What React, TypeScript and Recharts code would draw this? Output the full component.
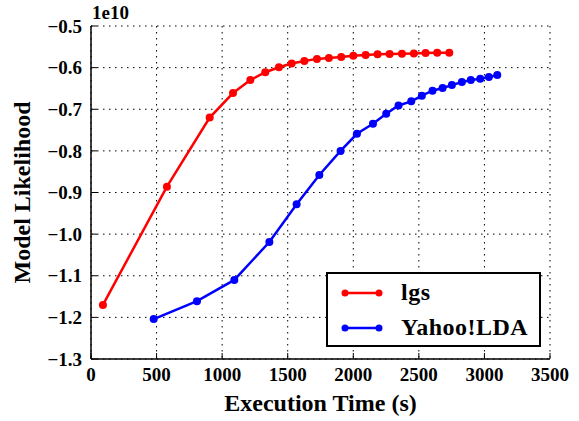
import { CartesianGrid, Line, LineChart, XAxis, YAxis } from "recharts";

const lgsTime = [91, 579, 905, 1083, 1215, 1329, 1433, 1530, 1627, 1723, 1814, 1908, 2000, 2094, 2185, 2277, 2371, 2462, 2551, 2640, 2732];
const lgsLikelihood = [
	-1.17, -0.886, -0.72, -0.661, -0.63, -0.611, -0.599, -0.59, -0.584, -0.579, -0.577, -0.5745, -0.5714, -0.5697, -0.568,
	-0.567, -0.5666, -0.5658, -0.565, -0.564, -0.564,
];

const yahooTime = [478, 808, 1093, 1360, 1568, 1741, 1903, 2028, 2150, 2251, 2345, 2442, 2523, 2604, 2681, 2752, 2828, 2896, 2968, 3034, 3098];
const yahooLikelihood = [
	-1.204, -1.161, -1.11, -1.019, -0.928, -0.858, -0.8, -0.759, -0.735, -0.711, -0.691, -0.681, -0.6675, -0.6555, -0.649,
	-0.642, -0.6347, -0.63, -0.6267, -0.6226, -0.618,
];

const X_TICKS = [0, 500, 1000, 1500, 2000, 2500, 3000, 3500];
const Y_TICKS = [-1.3, -1.2, -1.1, -1.0, -0.9, -0.8, -0.7, -0.6, -0.5];

const SERIES = [
	{ name: "lgs", color: "#ff0000" },
	{ name: "Yahoo!LDA", color: "#0000ff" },
];

const lgsData = lgsTime.map((x, i) => ({ x, y: lgsLikelihood[i] }));
const yahooData = yahooTime.map((x, i) => ({ x, y: yahooLikelihood[i] }));

const FONT = "'Liberation Serif', 'Times New Roman', serif";
const TICK_LEN = 6;

const fmtY = (v: number) => (v < 0 ? "\u2212" : "") + Math.abs(v).toFixed(1);

function BottomTick({ x, y, payload }: any) {
	return (
		<g>
			<line x1={x} x2={x} y1={y} y2={y - TICK_LEN} stroke="#000" strokeWidth={1} />
			<text x={x} y={y + 22} textAnchor="middle" fontFamily={FONT} fontWeight="bold" fontSize={19} fill="#000">
				{payload.value}
			</text>
		</g>
	);
}

function TopTick({ x, y }: any) {
	return <line x1={x} x2={x} y1={y} y2={y + TICK_LEN} stroke="#000" strokeWidth={1} />;
}

function LeftTick({ x, y, payload }: any) {
	return (
		<g>
			<line x1={x} x2={x + TICK_LEN} y1={y} y2={y} stroke="#000" strokeWidth={1} />
			<text x={x - 9} y={y} dy="0.35em" textAnchor="end" fontFamily={FONT} fontWeight="bold" fontSize={19} fill="#000">
				{fmtY(payload.value)}
			</text>
		</g>
	);
}

function RightTick({ x, y }: any) {
	return <line x1={x} x2={x - TICK_LEN} y1={y} y2={y} stroke="#000" strokeWidth={1} />;
}

function LegendBox() {
	return (
		<div
			style={{
				position: "absolute",
				left: 326,
				top: 272,
				width: 211,
				height: 71,
				border: "2px solid #000",
				background: "#fff",
				fontFamily: FONT,
				fontWeight: "bold",
				fontSize: 24,
				letterSpacing: 0.5,
			}}
		>
			{SERIES.map((s, i) => (
				<div key={s.name} style={{ display: "flex", alignItems: "center", height: 35, marginTop: i === 0 ? 1 : 0 }}>
					<svg width={60} height={12} style={{ marginLeft: 13 }}>
						<line x1={4} x2={38} y1={6} y2={6} stroke={s.color} strokeWidth={2.5} />
						<circle cx={4} cy={6} r={3.5} fill={s.color} />
						<circle cx={38} cy={6} r={3.5} fill={s.color} />
					</svg>
					<span>{s.name}</span>
				</div>
			))}
		</div>
	);
}

export default function App() {
	return (
		<div style={{ position: "absolute", left: 0, top: 0, width: 579, height: 421, background: "#fff" }}>
			<span
				style={{
					position: "absolute",
					left: 92,
					top: 2,
					fontFamily: FONT,
					fontWeight: "bold",
					fontSize: 19,
					lineHeight: "22px",
				}}
			>
				1e10
			</span>
			<LineChart width={579} height={421} margin={{ top: 26, right: 29, bottom: 0, left: 0 }}>
				<CartesianGrid stroke="#000" strokeDasharray="1.5 4.5" strokeWidth={1} />
				<XAxis
					type="number"
					dataKey="x"
					domain={[0, 3500]}
					ticks={X_TICKS}
					height={62}
					tickSize={0}
					tickMargin={0}
					tickLine={false}
					axisLine={{ stroke: "#000", strokeWidth: 1.5 }}
					tick={<BottomTick />}
					interval={0}
					allowDataOverflow
					label={{
						value: "Execution Time (s)",
						position: "insideBottom",
						offset: 10,
						style: { fontFamily: FONT, fontWeight: "bold", fontSize: 24, fill: "#000" },
					}}
				/>
				<XAxis
					xAxisId="top"
					orientation="top"
					type="number"
					dataKey="x"
					domain={[0, 3500]}
					ticks={X_TICKS}
					height={0}
					tickSize={0}
					tickMargin={0}
					tickLine={false}
					axisLine={{ stroke: "#000", strokeWidth: 1.5 }}
					tick={<TopTick />}
					interval={0}
					allowDataOverflow
				/>
				<YAxis
					type="number"
					domain={[-1.3, -0.5]}
					ticks={Y_TICKS}
					width={91}
					tickSize={0}
					tickMargin={0}
					tickLine={false}
					axisLine={{ stroke: "#000", strokeWidth: 1.5 }}
					tick={<LeftTick />}
					interval={0}
					allowDataOverflow
					label={{
						value: "Model Likelihood",
						angle: -90,
						position: "insideLeft",
						offset: 15,
						dx: 6,
						style: { fontFamily: FONT, fontWeight: "bold", fontSize: 24, fill: "#000", textAnchor: "middle" },
					}}
				/>
				<YAxis
					yAxisId="right"
					orientation="right"
					type="number"
					domain={[-1.3, -0.5]}
					ticks={Y_TICKS}
					width={0}
					tickSize={0}
					tickMargin={0}
					tickLine={false}
					axisLine={{ stroke: "#000", strokeWidth: 1.5 }}
					tick={<RightTick />}
					interval={0}
					allowDataOverflow
				/>
				<Line
					data={lgsData}
					dataKey="y"
					name="lgs"
					stroke="#ff0000"
					strokeWidth={2.5}
					dot={{ r: 4, fill: "#ff0000", stroke: "#ff0000", strokeWidth: 0 }}
					isAnimationActive={false}
				/>
				<Line
					data={yahooData}
					dataKey="y"
					name="Yahoo!LDA"
					stroke="#0000ff"
					strokeWidth={2.5}
					dot={{ r: 4, fill: "#0000ff", stroke: "#0000ff", strokeWidth: 0 }}
					isAnimationActive={false}
				/>
			</LineChart>
			<LegendBox />
		</div>
	);
}
